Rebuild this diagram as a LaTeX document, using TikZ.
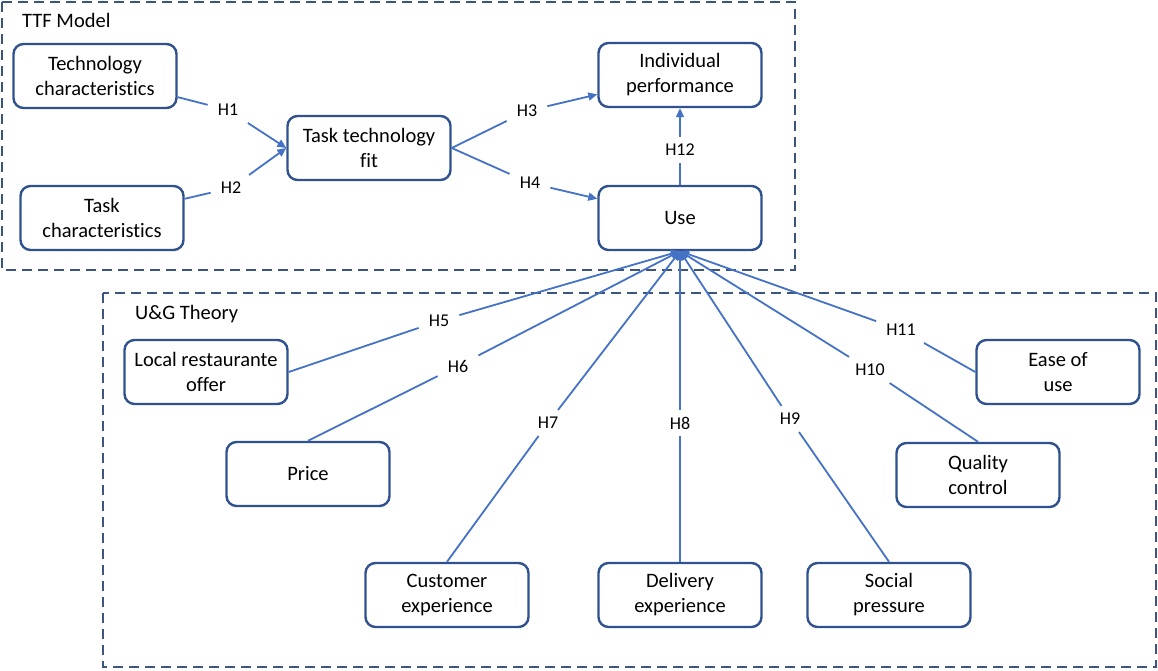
\documentclass[tikz,border=0pt]{standalone}
\usepackage{fontspec}
\setmainfont[Ligatures=NoCommon]{Carlito}
\usetikzlibrary{arrows.meta}
\definecolor{boxblue}{HTML}{2F528F}
\definecolor{lineblue}{HTML}{4472C4}
\definecolor{dashblue}{HTML}{3B5580}
\begin{document}
\begin{tikzpicture}[x=1pt,y=-1pt,
  box/.style={draw=boxblue, line width=2.4pt, rounded corners=10pt, fill=white,
    minimum width=163pt, minimum height=64pt, align=center, inner sep=2pt,
    font=\fontsize{20.5}{25}\selectfont},
  hlab/.style={inner xsep=10pt, inner ysep=7pt, font=\fontsize{18}{20}\selectfont},
  conn/.style={draw=lineblue, line width=1.8pt},
  arr/.style={conn, -{Triangle[length=9pt,width=8pt]}},
  group/.style={draw=dashblue, line width=1.8pt, dash pattern=on 10pt off 6pt},
  title/.style={anchor=west, inner sep=0pt, font=\fontsize{20.5}{22}\selectfont}]
\useasboundingbox (0,0) rectangle (1158,671);
% group frames
\draw[group] (2,2) rectangle (795,270);
\draw[group] (103,293) rectangle (1156,667);
\node[title] (ttf) at (22,20) {TTF Model};
\node[title] (ug) at (135,314) {U\&G Theory};
% TTF nodes
\node[box] (tc) at (95,76) {Technology\\characteristics};
\node[box] (tk) at (102,218) {Task\\characteristics};
\node[box] (ttfit) at (369,148) {Task technology\\fit};
\node[box] (ip) at (680,75) {Individual\\performance};
\node[box] (use) at (680,218) {Use};
% U&G nodes
\node[box] (lro) at (206,372) {Local restaurante\\offer};
\node[box] (price) at (308,474) {Price};
\node[box] (cx) at (447,595) {Customer\\experience};
\node[box] (dx) at (680,595) {Delivery\\experience};
\node[box] (sp) at (889,595) {Social\\pressure};
\node[box] (qc) at (978,475) {Quality\\control};
\node[box] (eou) at (1058,372) {Ease of\\use};
% labels
\node[hlab] (h1) at (228,110) {H1};
\node[hlab] (h2) at (231,188) {H2};
\node[hlab] (h3) at (527,111) {H3};
\node[hlab] (h4) at (530,183) {H4};
\node[hlab] (h12) at (680,150) {H12};
\node[hlab] (h5) at (439,321) {H5};
\node[hlab] (h6) at (458,366) {H6};
\node[hlab] (h7) at (548,423) {H7};
\node[hlab] (h8) at (680,423) {H8};
\node[hlab] (h9) at (790,419) {H9};
\node[hlab] (h10) at (870,370) {H10};
\node[hlab] (h11) at (901,330) {H11};
% TTF connectors
\draw[arr] (tc) -- (h1) -- (ttfit.west);
\draw[arr] (tk) -- (h2) -- (ttfit.west);
\draw[arr] (ttfit.east) -- (h3) -- (ip);
\draw[arr] (ttfit.east) -- (h4) -- (use);
\draw[arr] (use) -- (h12) -- (ip);
% U&G connectors
\draw[arr] (lro.east) -- (h5) -- (use.south);
\draw[arr] (price.north) -- (h6) -- (use.south);
\draw[arr] (cx.north) -- (h7) -- (use.south);
\draw[arr] (dx.north) -- (h8) -- (use.south);
\draw[arr] (sp.north) -- (h9) -- (use.south);
\draw[arr] (qc.north) -- (h10) -- (use.south);
\draw[arr] (eou.west) -- (h11) -- (use.south);
\end{tikzpicture}
\end{document}
